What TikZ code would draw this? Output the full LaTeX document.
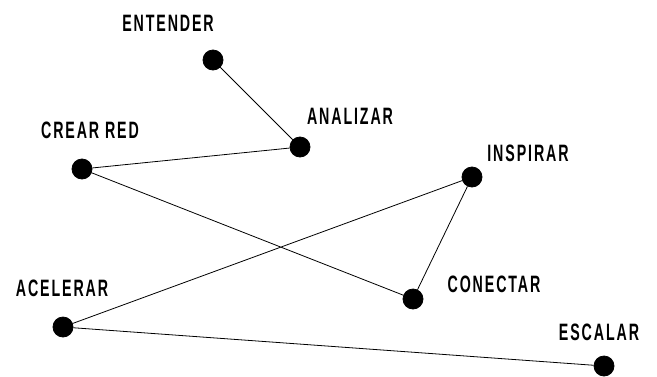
\documentclass[tikz,border=0pt]{standalone}
\usepackage{fontspec}
\usepackage{tikz}
\newfontfamily\lblfont{Liberation Sans}[FakeStretch=0.6,LetterSpace=8]

\tikzset{
  dot/.style={circle,fill=black,draw=black,inner sep=0pt,minimum size=20},
  lbl/.style={font=\lblfont\bfseries\fontsize{23.7}{24}\selectfont,inner sep=0pt}
}

\begin{document}
\begin{tikzpicture}[x=1pt,y=-1pt,line width=0.8pt]
    \useasboundingbox (0,0) rectangle (657,376);
    % puntos
    \node at (213,60) [dot] (ent) {};
    \node at (300,147) [dot] (ana) {};
    \node at (82,169) [dot] (cre) {};
    \node at (472,177) [dot] (ins) {};
    \node at (413,299) [dot] (con) {};
    \node at (63,327) [dot] (ace) {};
    \node at (604,366) [dot] (esc) {};
    % etiquetas
    \node at (168,23.5) [lbl] (entl) {ENTENDER};
    \node at (350,116) [lbl] (anal) {ANALIZAR};
    \node at (90,130.5) [lbl] (crel) {CREAR RED};
    \node at (528,153.5) [lbl] (insl) {INSPIRAR};
    \node at (494,284.5) [lbl] (conl) {CONECTAR};
    \node at (62,288.5) [lbl] (acel) {ACELERAR};
    \node at (599,332.5) [lbl] (escl) {ESCALAR};
    \draw (ent) -- (ana) -- (cre) -- (con) -- (ins) -- (ace) -- (esc);
\end{tikzpicture}
\end{document}
